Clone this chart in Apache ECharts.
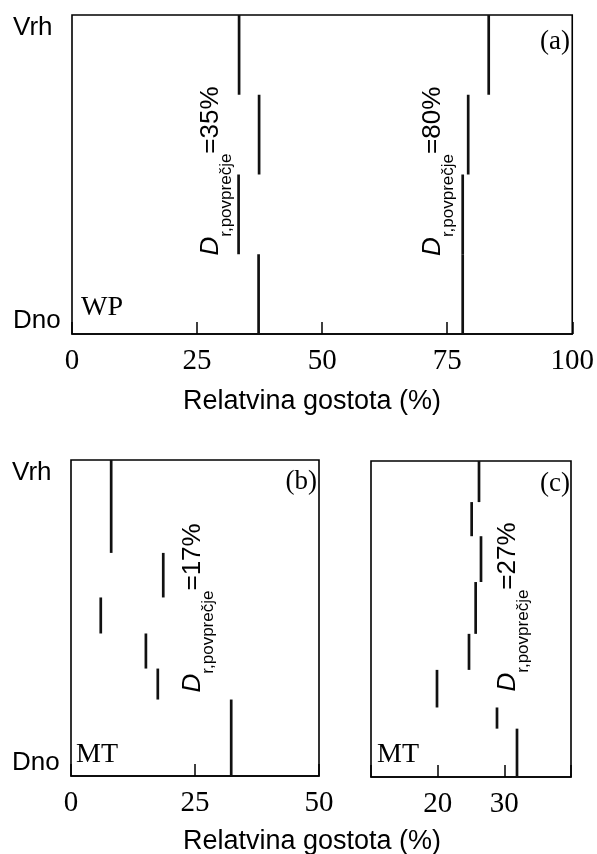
<!DOCTYPE html>
<html>
<head>
<meta charset="utf-8">
<script src="https://cdn.jsdelivr.net/npm/echarts@6/dist/echarts.min.js"></script>
<style>
html,body{margin:0;padding:0;background:#fff;}
#chart{width:597px;height:854px;}
</style>
</head>
<body>
<div id="chart"></div>
<script>
// ---- Data ----
// Panel (a): WP, depth boundaries (% of depth, 0 = Vrh, 100 = Dno)
const depthA = [0, 25, 50, 75, 100];
const wpLow = [33.4, 37.4, 33.3, 37.3];   // D_r,povprečje = 35%
const wpHigh = [83.3, 79.2, 78.1, 78.1];  // D_r,povprečje = 80%
// Panel (b): MT
const depthB = [0, 29.4, 43.5, 54.9, 66.0, 75.8, 100];
const mtB = [8.1, 18.6, 6.0, 15.1, 17.5, 32.3]; // D_r,povprečje = 17%
// Panel (c): MT
const depthC = [0, 13.0, 23.8, 38.3, 54.7, 66.1, 78.0, 84.7, 100];
const mtC = [26.2, 25.1, 26.5, 25.7, 24.7, 19.9, 28.9, 31.9]; // D_r,povprečje = 27%
// Mean labels
const meansA = ['35%', '80%'];
const meansB = ['17%'];
const meansC = ['27%'];
// Label anchor positions [x value, depth %]
const labelPosA = [[28.8, 48.9], [73.2, 49.0]];
const labelPosB = [[25.6, 46.8]];
const labelPosC = [[31.3, 46.2]];
// Axis tick labels
const yTickNames = ['Vrh', 'Dno'];
const xAxisTitle = 'Relatvina gostota (%)';

// ---- Build ----
function segs(values, bounds) {
  return values.map((v, i) => [v, bounds[i], bounds[i + 1]]);
}
const SANS = 'Liberation Sans, Arial, sans-serif';
const SERIF = 'Liberation Serif, Times New Roman, serif';

function renderSeg(params, api) {
  const x = api.value(0);
  const p0 = api.coord([x, api.value(1)]);
  const p1 = api.coord([x, api.value(2)]);
  return {
    type: 'line',
    shape: { x1: p0[0], y1: p0[1], x2: p1[0], y2: p1[1] },
    style: { stroke: '#111', lineWidth: 2.7 }
  };
}
function segSeries(idx, data) {
  return {
    type: 'custom', xAxisIndex: idx, yAxisIndex: idx,
    renderItem: renderSeg, data: data, encode: { x: 0, y: [1, 2] },
    silent: true, clip: false
  };
}
const richLabel = {
  d: { fontFamily: SANS, fontSize: 26, fontStyle: 'italic', lineHeight: 30, verticalAlign: 'top', color: '#000', textBorderWidth: 0 },
  s: { fontFamily: SANS, fontSize: 17, lineHeight: 37, verticalAlign: 'bottom', color: '#000', textBorderWidth: 0 },
  m: { fontFamily: SANS, fontSize: 26, lineHeight: 30, verticalAlign: 'top', color: '#000', textBorderWidth: 0 }
};
function labelSeries(idx, pos, means) {
  return {
    type: 'scatter', xAxisIndex: idx, yAxisIndex: idx, symbolSize: 0, silent: true,
    itemStyle: { color: '#000', opacity: 1 },
    data: pos.map((p, i) => ({ value: p, name: means[i] })),
    label: {
      show: true, position: 'inside', rotate: 90, align: 'center', verticalAlign: 'middle',
      color: '#000', opacity: 1, textBorderWidth: 0, textBorderColor: 'transparent',
      formatter: p => '{d|D}{s|r,povprečje}{m|=' + p.name + '}',
      rich: richLabel
    }
  };
}
function xAxis(idx, min, max, interval, hideEnds) {
  return {
    type: 'value', gridIndex: idx, min: min, max: max, interval: interval, position: 'bottom',
    axisLine: { show: true, onZero: false, lineStyle: { color: '#000', width: 1.5 } },
    axisTick: { show: true, inside: true, length: 12, lineStyle: { color: '#000', width: 1.5 } },
    axisLabel: {
      margin: 13, color: '#000', fontFamily: SERIF, fontSize: 29,
      formatter: v => (hideEnds && (v === min || v === max)) ? '' : String(v)
    },
    splitLine: { show: false }
  };
}
function yAxis(idx, showNames) {
  return {
    type: 'value', gridIndex: idx, min: 0, max: 100, interval: 100, inverse: true,
    axisLine: { show: false }, axisTick: { show: false }, splitLine: { show: false },
    axisLabel: {
      show: showNames, align: 'left', margin: 59, color: '#000', fontFamily: SANS, fontSize: 26,
      verticalAlignMinLabel: 'top', verticalAlignMaxLabel: 'bottom',
      formatter: v => v === 0 ? yTickNames[0] : yTickNames[1]
    }
  };
}
const gridStyle = { show: true, borderColor: '#000', borderWidth: 1.6, backgroundColor: 'transparent' };

function txt(x, y, text, font, size, align) {
  return {
    type: 'text', x: x, y: y, silent: true,
    style: { text: text, fontFamily: font, fontSize: size, fill: '#000', align: align || 'left', verticalAlign: 'middle' }
  };
}

const option = {
  backgroundColor: '#fff',
  animation: false,
  grid: [
    Object.assign({ left: 72, top: 15, width: 501, height: 319 }, gridStyle),
    Object.assign({ left: 71, top: 460, width: 248, height: 316 }, gridStyle),
    Object.assign({ left: 371, top: 461, width: 200, height: 316 }, gridStyle)
  ],
  xAxis: [xAxis(0, 0, 100, 25, false), xAxis(1, 0, 50, 25, false), xAxis(2, 10, 40, 10, true)],
  yAxis: [yAxis(0, true), yAxis(1, true), yAxis(2, false)],
  series: [
    segSeries(0, segs(wpLow, depthA)),
    segSeries(0, segs(wpHigh, depthA)),
    segSeries(1, segs(mtB, depthB)),
    segSeries(2, segs(mtC, depthC)),
    labelSeries(0, labelPosA, meansA),
    labelSeries(1, labelPosB, meansB),
    labelSeries(2, labelPosC, meansC)
  ],
  graphic: [
    txt(570, 42, '(a)', SERIF, 27, 'right'),
    txt(317, 482, '(b)', SERIF, 27, 'right'),
    txt(570, 484, '(c)', SERIF, 27, 'right'),
    txt(81, 308, 'WP', SERIF, 28),
    txt(76, 755, 'MT', SERIF, 28),
    txt(377, 755, 'MT', SERIF, 28),
    txt(312, 402, xAxisTitle, SANS, 27, 'center'),
    txt(312, 842, xAxisTitle, SANS, 27, 'center')
  ]
};
const chart = echarts.init(document.getElementById('chart'), null, { renderer: 'canvas' });
chart.setOption(option);
</script>
</body>
</html>
